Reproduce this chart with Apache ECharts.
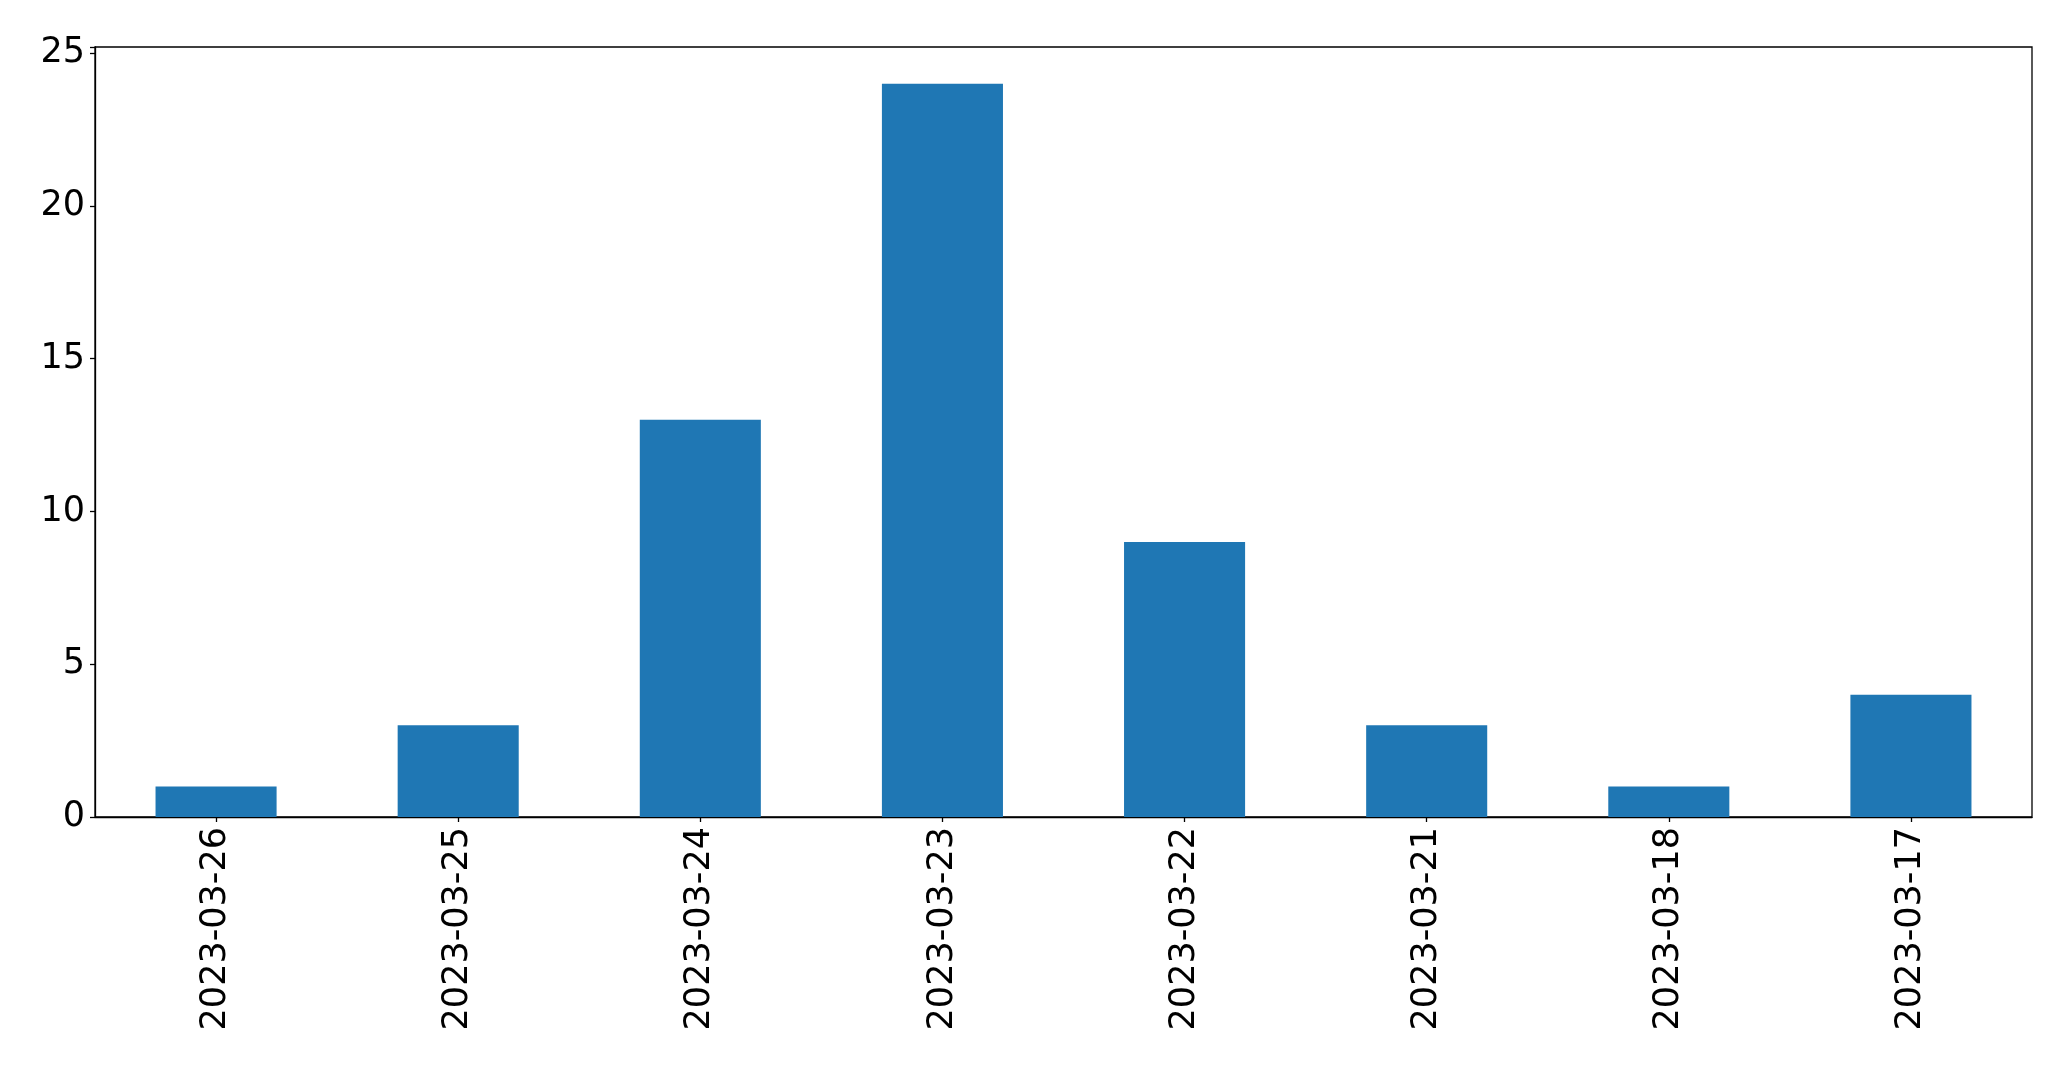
<!DOCTYPE html>
<html>
<head>
<meta charset="utf-8">
<script src="https://cdn.jsdelivr.net/npm/echarts@6/dist/echarts.min.js"></script>
<style>
html,body{margin:0;padding:0;background:#fff;}
#c{width:2071px;height:1069px;}
</style>
</head>
<body>
<div id="c"></div>
<script>
const categories = ['2023-03-26','2023-03-25','2023-03-24','2023-03-23','2023-03-22','2023-03-21','2023-03-18','2023-03-17'];
const counts = [1, 3, 13, 24, 9, 3, 1, 4];
const yTicks = [0, 5, 10, 15, 20, 25];

const chart = echarts.init(document.getElementById('c'), null, {renderer: 'canvas'});
const font = 'DejaVu Sans';
chart.setOption({
  animation: false,
  backgroundColor: '#ffffff',
  grid: {
    left: 95, right: 39, top: 47, bottom: 252,
    containLabel: false, outerBoundsMode: 'none',
    show: true, borderColor: '#000', borderWidth: 1.3, backgroundColor: 'transparent'
  },
  xAxis: {
    type: 'category',
    data: categories,
    boundaryGap: true,
    axisLine: {show: true, lineStyle: {color: '#000', width: 1.3}},
    axisTick: {show: true, alignWithLabel: true, length: 5, lineStyle: {color: '#000', width: 1.3}},
    axisLabel: {rotate: 90, fontSize: 35, fontFamily: font, color: '#000', margin: 10, interval: 0}
  },
  yAxis: {
    type: 'value',
    min: 0, max: 25.2, interval: 5,
    splitLine: {show: false},
    axisLine: {show: true, lineStyle: {color: '#000', width: 1.3}},
    axisTick: {show: true, length: 5, lineStyle: {color: '#000', width: 1.3}},
    axisLabel: {fontSize: 35, fontFamily: font, color: '#000', margin: 10,
      formatter: v => (yTicks.indexOf(v) >= 0 ? String(v) : '')}
  },
  series: [{
    type: 'bar',
    data: counts,
    barWidth: '50%',
    itemStyle: {color: '#1f77b4'}
  }]
});
</script>
</body>
</html>
